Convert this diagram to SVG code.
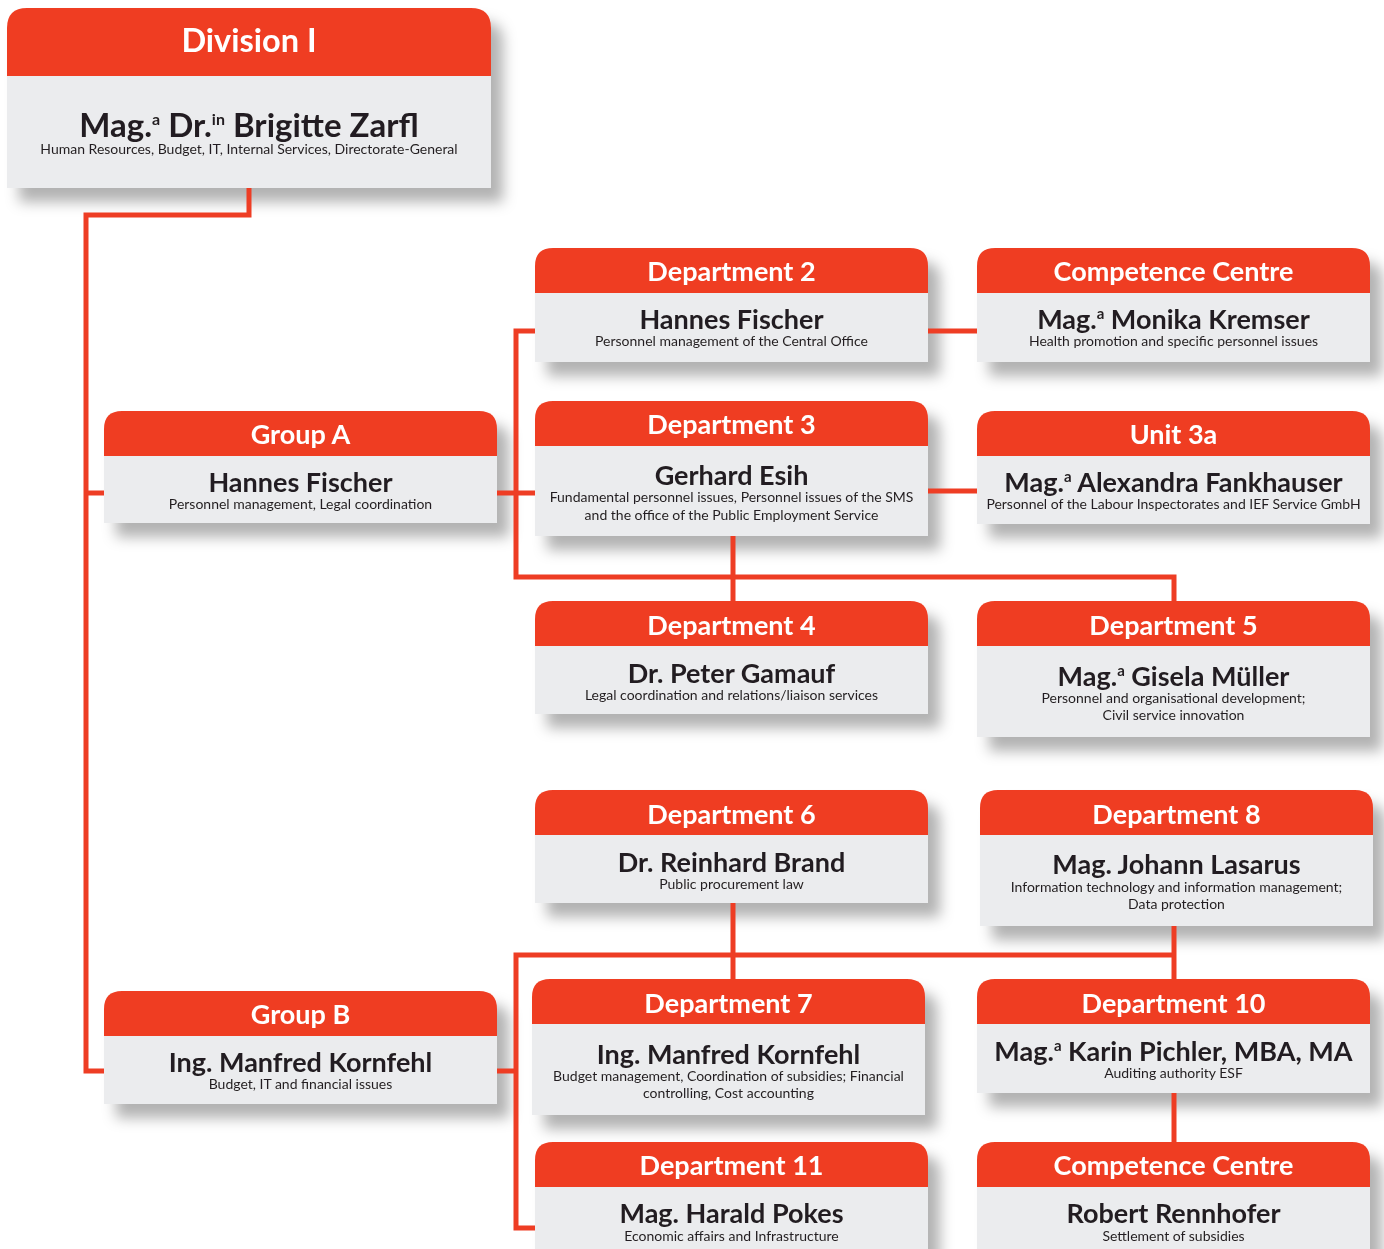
<svg xmlns="http://www.w3.org/2000/svg" width="1384" height="1249" viewBox="0 0 1384 1249">
<defs>
<filter id="sh" x="-10%" y="-20%" width="130%" height="160%">
<feDropShadow dx="12" dy="14" stdDeviation="7" flood-color="#000" flood-opacity="0.3"/>
</filter>
<style>
.hd{fill:#ef3e23}
.bd{fill:#ebecee}
.ht{font-family:Lato,"Noto Sans",sans-serif;font-weight:700;font-size:27px;fill:#fff;text-anchor:middle}
.nm{font-family:Lato,"Noto Sans",sans-serif;font-weight:700;font-size:27px;fill:#231f20;text-anchor:middle}
.sb{font-family:Lato,"Noto Sans",sans-serif;font-weight:400;font-size:14px;fill:#231f20;text-anchor:middle}
.sup{font-size:15px}
.cn{fill:none;stroke:#ee3d24;stroke-width:5;stroke-linejoin:miter}
</style>
</defs>

<g id="division-1" filter="url(#sh)">
<rect class="bd" x="7" y="75" width="484" height="113"/>
<path class="hd" d="M7,76 V28 Q7,8 27,8 H471 Q491,8 491,28 V76 Z"/>
<text class="ht" x="249" y="52" style="font-size:32.5px">Division I</text>
<text class="nm" x="249" y="137" style="font-size:33px">Mag.<tspan class="sup" dy="-12" style="font-size:16px">a</tspan><tspan dy="12"> Dr.</tspan><tspan class="sup" dy="-12" style="font-size:16px">in</tspan><tspan dy="12"> Brigitte Zarfl</tspan></text>
<text class="sb" x="249" y="154">Human Resources, Budget, IT, Internal Services, Directorate-General</text>
</g>

<g id="group-a" filter="url(#sh)">
<rect class="bd" x="104" y="455" width="393" height="68"/>
<path class="hd" d="M104,456 V429 Q104,411 122,411 H479 Q497,411 497,429 V456 Z"/>
<text class="ht" x="300.5" y="444">Group A</text>
<text class="nm" x="300.5" y="492">Hannes Fischer</text>
<text class="sb" x="300.5" y="509">Personnel management, Legal coordination</text>
</g>

<g id="department-2" filter="url(#sh)">
<rect class="bd" x="535" y="292" width="393" height="70"/>
<path class="hd" d="M535,293 V266 Q535,248 553,248 H910 Q928,248 928,266 V293 Z"/>
<text class="ht" x="731.5" y="281">Department 2</text>
<text class="nm" x="731.5" y="329">Hannes Fischer</text>
<text class="sb" x="731.5" y="346">Personnel management of the Central Office</text>
</g>

<g id="competence-centre-1" filter="url(#sh)">
<rect class="bd" x="977" y="292" width="393" height="70"/>
<path class="hd" d="M977,293 V266 Q977,248 995,248 H1352 Q1370,248 1370,266 V293 Z"/>
<text class="ht" x="1173.5" y="281">Competence Centre</text>
<text class="nm" x="1173.5" y="329">Mag.<tspan class="sup" dy="-10">a</tspan><tspan dy="10"> Monika Kremser</tspan></text>
<text class="sb" x="1173.5" y="346">Health promotion and specific personnel issues</text>
</g>

<g id="department-3" filter="url(#sh)">
<rect class="bd" x="535" y="445" width="393" height="91"/>
<path class="hd" d="M535,446 V419 Q535,401 553,401 H910 Q928,401 928,419 V446 Z"/>
<text class="ht" x="731.5" y="434">Department 3</text>
<text class="nm" x="731.5" y="485">Gerhard Esih</text>
<text class="sb" x="731.5" y="502">Fundamental personnel issues, Personnel issues of the SMS</text>
<text class="sb" x="731.5" y="520">and the office of the Public Employment Service</text>
</g>

<g id="unit-3a" filter="url(#sh)">
<rect class="bd" x="977" y="455" width="393" height="69"/>
<path class="hd" d="M977,456 V429 Q977,411 995,411 H1352 Q1370,411 1370,429 V456 Z"/>
<text class="ht" x="1173.5" y="444">Unit 3a</text>
<text class="nm" x="1173.5" y="492">Mag.<tspan class="sup" dy="-10">a</tspan><tspan dy="10"> Alexandra Fankhauser</tspan></text>
<text class="sb" x="1173.5" y="509">Personnel of the Labour Inspectorates and IEF Service GmbH</text>
</g>

<g id="department-4" filter="url(#sh)">
<rect class="bd" x="535" y="645" width="393" height="69"/>
<path class="hd" d="M535,646 V619 Q535,601 553,601 H910 Q928,601 928,619 V646 Z"/>
<text class="ht" x="731.5" y="635">Department 4</text>
<text class="nm" x="731.5" y="683">Dr. Peter Gamauf</text>
<text class="sb" x="731.5" y="700">Legal coordination and relations/liaison services</text>
</g>

<g id="department-5" filter="url(#sh)">
<rect class="bd" x="977" y="645" width="393" height="92"/>
<path class="hd" d="M977,646 V619 Q977,601 995,601 H1352 Q1370,601 1370,619 V646 Z"/>
<text class="ht" x="1173.5" y="635">Department 5</text>
<text class="nm" x="1173.5" y="686">Mag.<tspan class="sup" dy="-10">a</tspan><tspan dy="10"> Gisela Müller</tspan></text>
<text class="sb" x="1173.5" y="703">Personnel and organisational development;</text>
<text class="sb" x="1173.5" y="720">Civil service innovation</text>
</g>

<g id="department-6" filter="url(#sh)">
<rect class="bd" x="535" y="834" width="393" height="69"/>
<path class="hd" d="M535,835 V808 Q535,790 553,790 H910 Q928,790 928,808 V835 Z"/>
<text class="ht" x="731.5" y="824">Department 6</text>
<text class="nm" x="731.5" y="872">Dr. Reinhard Brand</text>
<text class="sb" x="731.5" y="889">Public procurement law</text>
</g>

<g id="department-8" filter="url(#sh)">
<rect class="bd" x="980" y="834" width="393" height="92"/>
<path class="hd" d="M980,835 V808 Q980,790 998,790 H1355 Q1373,790 1373,808 V835 Z"/>
<text class="ht" x="1176.5" y="824">Department 8</text>
<text class="nm" x="1176.5" y="874">Mag. Johann Lasarus</text>
<text class="sb" x="1176.5" y="892">Information technology and information management;</text>
<text class="sb" x="1176.5" y="909">Data protection</text>
</g>

<g id="group-b" filter="url(#sh)">
<rect class="bd" x="104" y="1035" width="393" height="69"/>
<path class="hd" d="M104,1036 V1009 Q104,991 122,991 H479 Q497,991 497,1009 V1036 Z"/>
<text class="ht" x="300.5" y="1024">Group B</text>
<text class="nm" x="300.5" y="1072">Ing. Manfred Kornfehl</text>
<text class="sb" x="300.5" y="1089">Budget, IT and financial issues</text>
</g>

<g id="department-7" filter="url(#sh)">
<rect class="bd" x="532" y="1023" width="393" height="92"/>
<path class="hd" d="M532,1024 V997 Q532,979 550,979 H907 Q925,979 925,997 V1024 Z"/>
<text class="ht" x="728.5" y="1013">Department 7</text>
<text class="nm" x="728.5" y="1064">Ing. Manfred Kornfehl</text>
<text class="sb" x="728.5" y="1081">Budget management, Coordination of subsidies; Financial</text>
<text class="sb" x="728.5" y="1098">controlling, Cost accounting</text>
</g>

<g id="department-10" filter="url(#sh)">
<rect class="bd" x="977" y="1023" width="393" height="70"/>
<path class="hd" d="M977,1024 V997 Q977,979 995,979 H1352 Q1370,979 1370,997 V1024 Z"/>
<text class="ht" x="1173.5" y="1013">Department 10</text>
<text class="nm" x="1173.5" y="1061">Mag.<tspan class="sup" dy="-10">a</tspan><tspan dy="10"> Karin Pichler, MBA, MA</tspan></text>
<text class="sb" x="1173.5" y="1078">Auditing authority ESF</text>
</g>

<g id="department-11" filter="url(#sh)">
<rect class="bd" x="535" y="1186" width="393" height="80"/>
<path class="hd" d="M535,1187 V1160 Q535,1142 553,1142 H910 Q928,1142 928,1160 V1187 Z"/>
<text class="ht" x="731.5" y="1175">Department 11</text>
<text class="nm" x="731.5" y="1223">Mag. Harald Pokes</text>
<text class="sb" x="731.5" y="1241">Economic affairs and Infrastructure</text>
</g>

<g id="competence-centre-2" filter="url(#sh)">
<rect class="bd" x="977" y="1186" width="393" height="80"/>
<path class="hd" d="M977,1187 V1160 Q977,1142 995,1142 H1352 Q1370,1142 1370,1160 V1187 Z"/>
<text class="ht" x="1173.5" y="1175">Competence Centre</text>
<text class="nm" x="1173.5" y="1223">Robert Rennhofer</text>
<text class="sb" x="1173.5" y="1241">Settlement of subsidies</text>
</g>

<g id="connectors" class="cn">
<path d="M249,188 V215 H86 V1071 H104"/>
<path d="M86,493 H104"/>
<path d="M497,493 H535"/>
<path d="M535,331 H516 V577 H1174 V601"/>
<path d="M733,536 V601"/>
<path d="M928,331 H977"/>
<path d="M928,491 H977"/>
<path d="M497,1071 H516"/>
<path d="M733,903 V979"/>
<path d="M1174,955 H516 V1228 H535"/>
<path d="M1174,926 V979"/>
<path d="M1174,1093 V1142"/>
</g>
</svg>
